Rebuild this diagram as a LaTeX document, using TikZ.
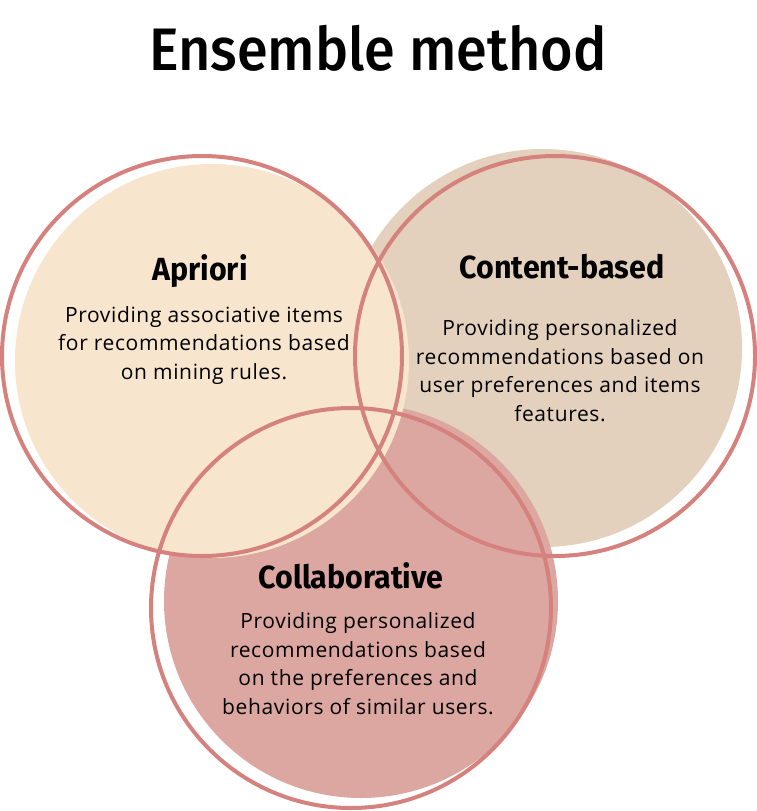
\documentclass[tikz,border=0pt]{standalone}
\usepackage{fontspec}
\setmainfont[LetterSpace=3]{Open Sans}
\newfontfamily\headfont[FakeStretch=0.95]{Fira Sans}
\newfontfamily\titlefont[FakeStretch=0.93,UprightFont={* Medium}]{Fira Sans}
\definecolor{apriorifill}{HTML}{F7E5CD}
\definecolor{contentfill}{HTML}{E3D1BD}
\definecolor{collabfill}{HTML}{DCA6A1}
\definecolor{ringcol}{HTML}{D5827E}

\begin{document}
\begin{tikzpicture}[x=1pt,y=-1pt,
    ring/.style={draw=ringcol,line width=4pt},
    headtxt/.style={font=\headfont\bfseries\fontsize{32}{36}\selectfont,anchor=base},
    bodytxt/.style={font=\fontsize{21}{28.5}\selectfont,align=center,anchor=base}]
    \useasboundingbox[fill=white] (0,0) rectangle (756,811);
    % discs, back to front
    \fill[contentfill] (543,348) circle (199pt);
    \fill[collabfill] (361,601) circle (197pt);
    \fill[apriorifill] (212,361) circle (197pt);
    % outlines on top
    \foreach \c in {(202,356),(555,356),(351,608)}
        \draw[ring] \c circle (200pt);
    \node[font=\titlefont\fontsize{60}{70}\selectfont,anchor=base] (title) at (378,70) {Ensemble method};
    % base anchor sits on the last line of the text
    \node[headtxt] (apriHead) at (200,280) {Apriori};
    \node[bodytxt] (apriText) at (204,379) {Providing associative items\\for recommendations based\\on mining rules.};
    \node[headtxt] (contHead) at (562,278) {Content-based};
    \node[bodytxt] (contText) at (560,421) {Providing personalized\\recommendations based on\\user preferences and items\\features.};
    \node[headtxt] (collHead) at (351,588) {Collaborative};
    \node[bodytxt] (collText) at (358,714) {Providing personalized\\recommendations based\\on the preferences and\\behaviors of similar users.};
\end{tikzpicture}
\end{document}
